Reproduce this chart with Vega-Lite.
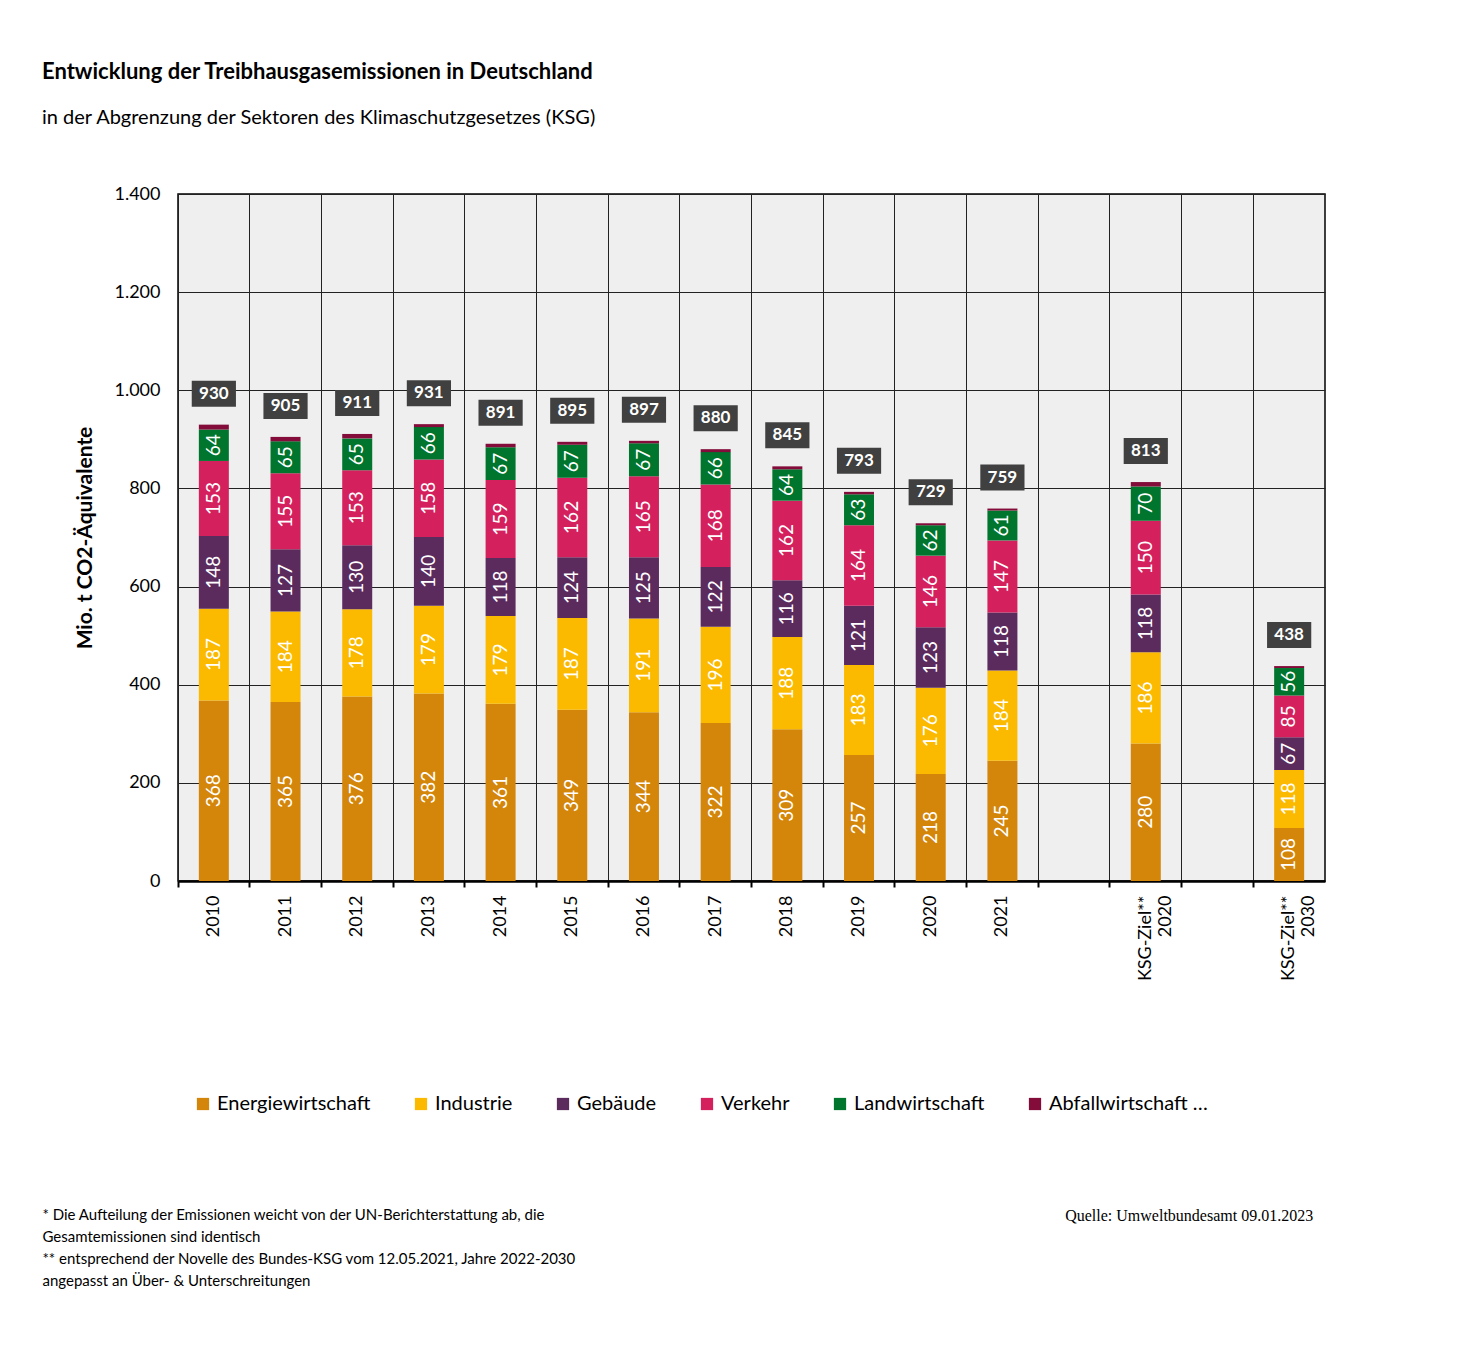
{
"$schema":"https://vega.github.io/schema/vega-lite/v6.json",
"config":{"font":"Lato","view":{"stroke":null}},
"autosize":{"type":"none"},
"padding":{"left":178,"top":194,"right":149,"bottom":467},
"width":1147,"height":687,
"title":{"text":"Entwicklung der Treibhausgasemissionen in Deutschland","subtitle":"in der Abgrenzung der Sektoren des Klimaschutzgesetzes (KSG)","anchor":"start","frame":"group","dx":-136,"fontSize":22,"fontWeight":"bold","subtitleFontSize":20,"subtitlePadding":24,"offset":56,"color":"#000","subtitleColor":"#000"},
"view":{"fill":"#efefef","stroke":"#000","strokeWidth":1.5},
"datasets":{
"rows":[
{"cat":"2010","sector":"Energiewirtschaft","o":1,"value":368},{"cat":"2010","sector":"Industrie","o":2,"value":187},{"cat":"2010","sector":"Gebäude","o":3,"value":148},{"cat":"2010","sector":"Verkehr","o":4,"value":153},{"cat":"2010","sector":"Landwirtschaft","o":5,"value":64},{"cat":"2010","sector":"Abfallwirtschaft und Sonstiges","o":6,"value":10},
{"cat":"2011","sector":"Energiewirtschaft","o":1,"value":365},{"cat":"2011","sector":"Industrie","o":2,"value":184},{"cat":"2011","sector":"Gebäude","o":3,"value":127},{"cat":"2011","sector":"Verkehr","o":4,"value":155},{"cat":"2011","sector":"Landwirtschaft","o":5,"value":65},{"cat":"2011","sector":"Abfallwirtschaft und Sonstiges","o":6,"value":9},
{"cat":"2012","sector":"Energiewirtschaft","o":1,"value":376},{"cat":"2012","sector":"Industrie","o":2,"value":178},{"cat":"2012","sector":"Gebäude","o":3,"value":130},{"cat":"2012","sector":"Verkehr","o":4,"value":153},{"cat":"2012","sector":"Landwirtschaft","o":5,"value":65},{"cat":"2012","sector":"Abfallwirtschaft und Sonstiges","o":6,"value":9},
{"cat":"2013","sector":"Energiewirtschaft","o":1,"value":382},{"cat":"2013","sector":"Industrie","o":2,"value":179},{"cat":"2013","sector":"Gebäude","o":3,"value":140},{"cat":"2013","sector":"Verkehr","o":4,"value":158},{"cat":"2013","sector":"Landwirtschaft","o":5,"value":66},{"cat":"2013","sector":"Abfallwirtschaft und Sonstiges","o":6,"value":6},
{"cat":"2014","sector":"Energiewirtschaft","o":1,"value":361},{"cat":"2014","sector":"Industrie","o":2,"value":179},{"cat":"2014","sector":"Gebäude","o":3,"value":118},{"cat":"2014","sector":"Verkehr","o":4,"value":159},{"cat":"2014","sector":"Landwirtschaft","o":5,"value":67},{"cat":"2014","sector":"Abfallwirtschaft und Sonstiges","o":6,"value":7},
{"cat":"2015","sector":"Energiewirtschaft","o":1,"value":349},{"cat":"2015","sector":"Industrie","o":2,"value":187},{"cat":"2015","sector":"Gebäude","o":3,"value":124},{"cat":"2015","sector":"Verkehr","o":4,"value":162},{"cat":"2015","sector":"Landwirtschaft","o":5,"value":67},{"cat":"2015","sector":"Abfallwirtschaft und Sonstiges","o":6,"value":6},
{"cat":"2016","sector":"Energiewirtschaft","o":1,"value":344},{"cat":"2016","sector":"Industrie","o":2,"value":191},{"cat":"2016","sector":"Gebäude","o":3,"value":125},{"cat":"2016","sector":"Verkehr","o":4,"value":165},{"cat":"2016","sector":"Landwirtschaft","o":5,"value":67},{"cat":"2016","sector":"Abfallwirtschaft und Sonstiges","o":6,"value":5},
{"cat":"2017","sector":"Energiewirtschaft","o":1,"value":322},{"cat":"2017","sector":"Industrie","o":2,"value":196},{"cat":"2017","sector":"Gebäude","o":3,"value":122},{"cat":"2017","sector":"Verkehr","o":4,"value":168},{"cat":"2017","sector":"Landwirtschaft","o":5,"value":66},{"cat":"2017","sector":"Abfallwirtschaft und Sonstiges","o":6,"value":6},
{"cat":"2018","sector":"Energiewirtschaft","o":1,"value":309},{"cat":"2018","sector":"Industrie","o":2,"value":188},{"cat":"2018","sector":"Gebäude","o":3,"value":116},{"cat":"2018","sector":"Verkehr","o":4,"value":162},{"cat":"2018","sector":"Landwirtschaft","o":5,"value":64},{"cat":"2018","sector":"Abfallwirtschaft und Sonstiges","o":6,"value":6},
{"cat":"2019","sector":"Energiewirtschaft","o":1,"value":257},{"cat":"2019","sector":"Industrie","o":2,"value":183},{"cat":"2019","sector":"Gebäude","o":3,"value":121},{"cat":"2019","sector":"Verkehr","o":4,"value":164},{"cat":"2019","sector":"Landwirtschaft","o":5,"value":63},{"cat":"2019","sector":"Abfallwirtschaft und Sonstiges","o":6,"value":5},
{"cat":"2020","sector":"Energiewirtschaft","o":1,"value":218},{"cat":"2020","sector":"Industrie","o":2,"value":176},{"cat":"2020","sector":"Gebäude","o":3,"value":123},{"cat":"2020","sector":"Verkehr","o":4,"value":146},{"cat":"2020","sector":"Landwirtschaft","o":5,"value":62},{"cat":"2020","sector":"Abfallwirtschaft und Sonstiges","o":6,"value":4},
{"cat":"2021","sector":"Energiewirtschaft","o":1,"value":245},{"cat":"2021","sector":"Industrie","o":2,"value":184},{"cat":"2021","sector":"Gebäude","o":3,"value":118},{"cat":"2021","sector":"Verkehr","o":4,"value":147},{"cat":"2021","sector":"Landwirtschaft","o":5,"value":61},{"cat":"2021","sector":"Abfallwirtschaft und Sonstiges","o":6,"value":4},
{"cat":"KSG-Ziel**|2020","sector":"Energiewirtschaft","o":1,"value":280},{"cat":"KSG-Ziel**|2020","sector":"Industrie","o":2,"value":186},{"cat":"KSG-Ziel**|2020","sector":"Gebäude","o":3,"value":118},{"cat":"KSG-Ziel**|2020","sector":"Verkehr","o":4,"value":150},{"cat":"KSG-Ziel**|2020","sector":"Landwirtschaft","o":5,"value":70},{"cat":"KSG-Ziel**|2020","sector":"Abfallwirtschaft und Sonstiges","o":6,"value":9},
{"cat":"KSG-Ziel**|2030","sector":"Energiewirtschaft","o":1,"value":108},{"cat":"KSG-Ziel**|2030","sector":"Industrie","o":2,"value":118},{"cat":"KSG-Ziel**|2030","sector":"Gebäude","o":3,"value":67},{"cat":"KSG-Ziel**|2030","sector":"Verkehr","o":4,"value":85},{"cat":"KSG-Ziel**|2030","sector":"Landwirtschaft","o":5,"value":56},{"cat":"KSG-Ziel**|2030","sector":"Abfallwirtschaft und Sonstiges","o":6,"value":4}
],
"totals":[
{"cat":"2010","total":930},{"cat":"2011","total":905},{"cat":"2012","total":911},{"cat":"2013","total":931},{"cat":"2014","total":891},{"cat":"2015","total":895},{"cat":"2016","total":897},{"cat":"2017","total":880},{"cat":"2018","total":845},{"cat":"2019","total":793},{"cat":"2020","total":729},{"cat":"2021","total":759},{"cat":"KSG-Ziel**|2020","total":813},{"cat":"KSG-Ziel**|2030","total":438}
]},
"encoding":{
"x":{"field":"cat","type":"nominal","sort":null,
"scale":{"domain":["2010","2011","2012","2013","2014","2015","2016","2017","2018","2019","2020","2021","b1","KSG-Ziel**|2020","b2","KSG-Ziel**|2030"],"paddingInner":0,"paddingOuter":0},
"axis":{"title":["* Die Aufteilung der Emissionen weicht von der UN-Berichterstattung ab, die","Gesamtemissionen sind identisch","** entsprechend der Novelle des Bundes-KSG vom 12.05.2021, Jahre 2022-2030","angepasst an Über- & Unterschreitungen"],"titleX":-136,"titleY":326,"titleAlign":"left","titleAnchor":"start","titleBaseline":"top","titleFontSize":15,"titleFontWeight":"normal","titleLineHeight":22,"titleColor":"#000",
"labelAngle":270,"labelAlign":"right","labelBaseline":"middle","labelFontSize":18,"labelColor":"#000","labelPadding":8,"labelLineHeight":20,"labelExpr":"indexof(datum.value,'b')==0 ? '' : split(datum.value,'|')","grid":true,"gridColor":"#222","gridWidth":1,"bandPosition":0,"ticks":true,"tickColor":"#000","tickSize":6,"tickWidth":2,"domainColor":"#000","domainWidth":2.5}}
},
"layer":[
{"data":{"name":"rows"},"mark":{"type":"bar","size":30},
"encoding":{
"y":{"aggregate":"sum","field":"value","type":"quantitative","stack":"zero","scale":{"domain":[0,1400]},
"axis":{"title":"Mio. t CO2-Äquivalente","titleFontSize":21,"titleFontWeight":"bold","titleColor":"#000","titlePadding":18,"values":[0,200,400,600,800,1000,1200,1400],"labelExpr":"replace(format(datum.value,','),',','.')","labelFontSize":18,"labelColor":"#000","gridColor":"#222","gridWidth":1,"domain":false,"ticks":false,"labelPadding":18}},
"color":{"field":"sector","type":"nominal","scale":{"domain":["Energiewirtschaft","Industrie","Gebäude","Verkehr","Landwirtschaft","Abfallwirtschaft und Sonstiges"],"range":["#D4860B","#FBBA00","#5C2B5E","#D4215E","#00752E","#830C3A"]},
"legend":{"orient":"none","legendX":15,"legendY":900,"direction":"horizontal","title":null,"symbolType":"square","symbolSize":150,"symbolStrokeWidth":0,"labelFontSize":20,"labelColor":"#000","columnPadding":40}},
"order":{"field":"o","type":"quantitative"}}},
{"data":{"name":"rows"},
"transform":[{"stack":"value","groupby":["cat"],"sort":[{"field":"o","order":"ascending"}],"as":["y0","y1"]},{"filter":"datum.value>=20"},{"calculate":"(datum.y0+datum.y1)/2","as":"mid"}],
"mark":{"type":"text","angle":270,"color":"#fff","fontSize":19,"align":"center","baseline":"middle"},
"encoding":{"y":{"field":"mid","type":"quantitative"},"text":{"field":"value","type":"quantitative"}}},
{"data":{"name":"totals"},
"mark":{"type":"point","shape":"M-1.7,-1L1.7,-1L1.7,1L-1.7,1Z","size":676,"filled":true,"color":"#404040","opacity":1,"yOffset":-31},
"encoding":{"y":{"field":"total","type":"quantitative"}}},
{"data":{"name":"totals"},
"mark":{"type":"text","color":"#fff","fontSize":17,"fontWeight":"bold","baseline":"middle","yOffset":-31},
"encoding":{"y":{"field":"total","type":"quantitative"},"text":{"field":"total","type":"quantitative"}}},
{"data":{"values":[{"t":"Quelle: Umweltbundesamt  09.01.2023"}]},
"mark":{"type":"text","font":"Liberation Serif","fontSize":16,"align":"right","baseline":"middle","color":"#000","yOffset":335,"dx":24},
"encoding":{"x":{"datum":"KSG-Ziel**|2030"},"y":{"datum":0,"type":"quantitative"},"text":{"field":"t"}}}
]
}
